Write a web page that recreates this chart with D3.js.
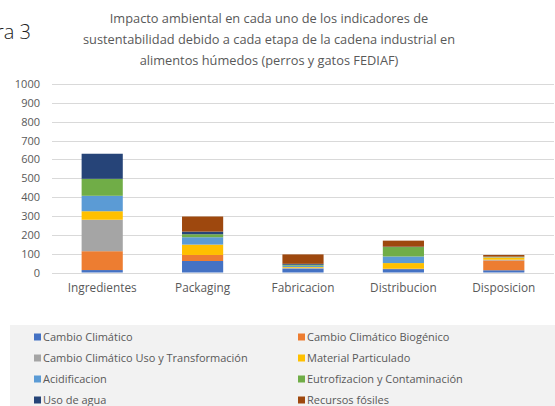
<html>
<head>
<script src="https://d3js.org/d3.v7.min.js"></script>
<style>
  body { margin: 0; background: #fff; }
  text { font-family: "Open Sans", "Noto Sans", sans-serif; }
</style>
</head>
<body>
<svg id="chart" width="555" height="406"></svg>
<script>
// etapas de la cadena
var categories = ["Ingredientes", "Packaging", "Fabricacion", "Distribucion", "Disposicion"];
var seriesNames = ["Cambio Climático", "Cambio Climático Biogénico",
  "Cambio Climático Uso y Transformación", "Material Particulado",
  "Acidificacion", "Eutrofizacion y Contaminación", "Uso de agua", "Recursos fósiles"];
var seriesColors = ["#4472c4", "#ed7d31", "#a5a5a5", "#ffc000", "#5b9bd5", "#70ad47", "#264478", "#9e480e"];
// valores, uno por etapa
var cambioClimatico    = [13, 61, 20, 18, 12];
var ccBiogenico        = [100, 32, 0, 2, 52];
var ccUsoTransf        = [167, 0, 5, 0, 4];
var materialPart       = [45, 55, 4, 30, 12];
var acidificacion      = [82, 39, 7, 35, 2];
var eutrofizacion      = [90, 16, 5, 50, 2];
var usoAgua            = [133, 14, 5, 2, 0];
var recursosFosiles    = [0, 80, 50, 32, 9];
var yTicks = [0, 100, 200, 300, 400, 500, 600, 700, 800, 900, 1000];
var titleLines = ["Impacto ambiental en cada uno de los indicadores de",
  "sustentabilidad debido a cada etapa de la cadena industrial en",
  "alimentos húmedos (perros y gatos FEDIAF)"];

var seriesValues = [cambioClimatico, ccBiogenico, ccUsoTransf, materialPart,
  acidificacion, eutrofizacion, usoAgua, recursosFosiles];

var table = categories.map(function(c, i) {
  var row = { cat: c };
  seriesNames.forEach(function(s, j) { row[s] = seriesValues[j][i]; });
  return row;
});

var svg = d3.select("#chart");

// "Figura 3" cortado por el borde izquierdo, como en el original
svg.append("text")
  .attr("x", 31).attr("y", 39)
  .attr("text-anchor", "end")
  .attr("font-size", 20)
  .attr("font-weight", 300)
  .attr("fill", "#222")
  .text("Figura 3");

svg.append("g").selectAll("text")
  .data(titleLines).enter()
  .append("text")
  .attr("x", 269)
  .attr("y", function(d, i) { return 23 + i * 21; })
  .attr("text-anchor", "middle")
  .attr("font-size", 12.8)
  .attr("fill", "#595959")
  .text(function(d) { return d; });

var x = d3.scaleBand()
  .domain(categories)
  .range([52, 554])
  .paddingInner(0.59)
  .paddingOuter(0.295);

var y = d3.scaleLinear()
  .domain([0, 1000])
  .range([272.5, 84]);

// grid
svg.append("g").selectAll("line")
  .data(yTicks).enter()
  .append("line")
  .attr("x1", 52).attr("x2", 554)
  .attr("y1", function(d) { return Math.round(y(d)) + 0.5; })
  .attr("y2", function(d) { return Math.round(y(d)) + 0.5; })
  .attr("stroke", "#d9d9d9")
  .attr("stroke-width", 1);

var yAxis = svg.append("g")
  .attr("transform", "translate(44,0)")
  .call(d3.axisLeft(y).tickValues(yTicks).tickFormat(d3.format("d")).tickSize(0).tickPadding(4));
yAxis.select(".domain").remove();
yAxis.selectAll("text")
  .attr("font-size", 11)
  .attr("fill", "#595959")
  .style("font-family", "'Open Sans', sans-serif");

var xAxis = svg.append("g")
  .attr("transform", "translate(0,284)")
  .call(d3.axisBottom(x).tickSize(0).tickPadding(0));
xAxis.select(".domain").remove();
xAxis.selectAll("text")
  .attr("font-size", 11.8)
  .attr("fill", "#595959")
  .style("font-family", "'Open Sans', sans-serif");

var stack = d3.stack().keys(seriesNames);
var layers = stack(table);

svg.append("g").selectAll("g")
  .data(layers).enter()
  .append("g")
  .attr("fill", function(d, i) { return seriesColors[i]; })
  .selectAll("rect")
  .data(function(d) { return d; }).enter()
  .append("rect")
  .attr("x", function(d) { return x(d.data.cat); })
  .attr("width", x.bandwidth())
  .attr("y", function(d) { return y(d[1]); })
  .attr("height", function(d) { return y(d[0]) - y(d[1]); });

// leyenda
svg.append("rect")
  .attr("x", 10).attr("y", 325)
  .attr("width", 545).attr("height", 81)
  .attr("fill", "#f2f2f2");

var legend = svg.append("g").selectAll("g")
  .data(seriesNames).enter()
  .append("g")
  .attr("transform", function(d, i) {
    var col = i % 2, row = Math.floor(i / 2);
    return "translate(" + (col === 0 ? 34 : 298) + "," + (337 + row * 21) + ")";
  });
legend.append("rect")
  .attr("x", 0).attr("y", -3.5)
  .attr("width", 7).attr("height", 7)
  .attr("fill", function(d, i) { return seriesColors[i]; });
legend.append("text")
  .attr("x", 9).attr("y", 4)
  .attr("font-size", 11)
  .attr("fill", "#595959")
  .text(function(d) { return d; });
</script>
</body>
</html>
